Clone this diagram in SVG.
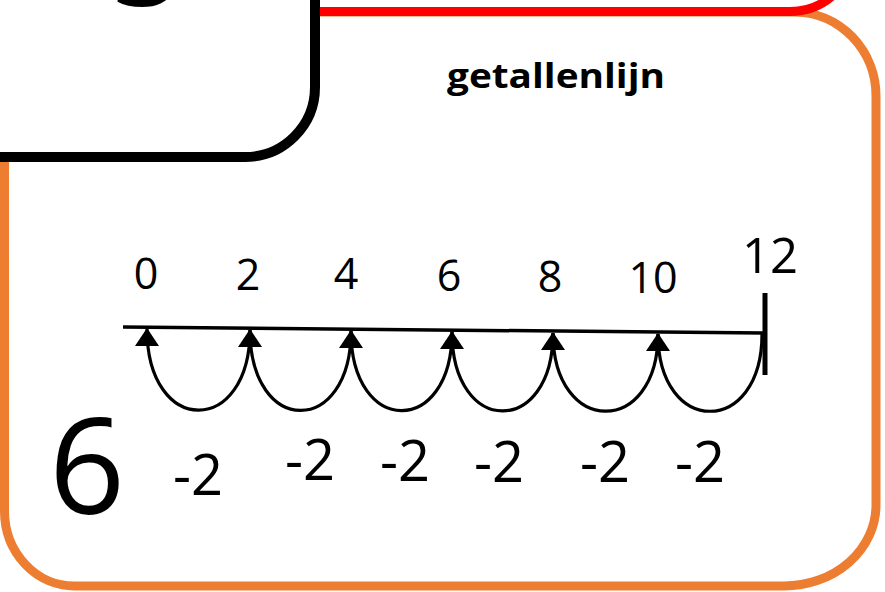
<svg xmlns="http://www.w3.org/2000/svg" width="885" height="592" viewBox="0 0 885 592">
<style>
.t{font-family:"Open Sans","DejaVu Sans",sans-serif;fill:#000;text-anchor:middle}
.num{font-size:43px}
.jump{font-size:56px}
.arc{fill:none;stroke:#000;stroke-width:3.2}
</style>
<defs>
<marker id="ah" markerUnits="userSpaceOnUse" markerWidth="18" markerHeight="24" viewBox="0 0 18 24" refX="17" refY="12" orient="auto">
<path d="M0 0 L18 12 L0 24 Z" fill="#000"/>
</marker>
</defs>
<rect width="885" height="592" fill="#fff"/>
<g id="orange-panel">
<path d="M40 12 H795 A82 84 0 0 1 876 96 V505 A92 81 0 0 1 784 586 H75 A70 75 0 0 1 4.5 511 V12 Z" fill="#fff" stroke="#ED7D31" stroke-width="9"/>
</g>
<g id="red-panel">
<path d="M300 -80 V11.5 H790 A65 65 0 0 0 855 -53.5 V-80 Z" fill="#fff" stroke="#FF0000" stroke-width="9"/>
</g>
<g id="black-panel">
<path d="M-20 -80 H315 V87 A70 70 0 0 1 245 157 H-20 Z" fill="#fff" stroke="#000" stroke-width="10"/>
<text class="t" x="147" y="6" font-size="133">5</text>
</g>
<g id="title">
<text x="556" y="88" font-family="'Open Sans','DejaVu Sans',sans-serif" font-weight="bold" font-size="34" text-anchor="middle" textLength="218" lengthAdjust="spacingAndGlyphs">getallenlijn</text>
</g>
<g id="step-number">
<text class="t" x="87" y="514" font-size="133">6</text>
</g>
<g id="number-line">
<line x1="123" y1="327" x2="763" y2="333" stroke="#000" stroke-width="3.5"/>
<line x1="765" y1="293" x2="765" y2="375" stroke="#000" stroke-width="5"/>
</g>
<g id="labels-top">
<text class="t num" x="146" y="289">0</text>
<text class="t num" x="248" y="290">2</text>
<text class="t num" x="346" y="289">4</text>
<text class="t num" x="449" y="291">6</text>
<text class="t num" x="550" y="292">8</text>
<text class="t num" x="653" y="293">10</text>
<text class="t" x="770" y="273" font-size="49">12</text>
</g>
<g id="connectors">
<path class="arc" marker-end="url(#ah)" d="M762 334 C762 437 658 437 658 334"/>
<path class="arc" marker-end="url(#ah)" d="M658 334 C658 437 553 437 553 333"/>
<path class="arc" marker-end="url(#ah)" d="M553 333 C553 437 452 437 452 332"/>
<path class="arc" marker-end="url(#ah)" d="M452 332 C452 437 351 437 351 331"/>
<path class="arc" marker-end="url(#ah)" d="M351 331 C351 437 250 437 250 330"/>
<path class="arc" marker-end="url(#ah)" d="M250 330 C250 437 147 437 147 329"/>
</g>
<g id="labels-jump">
<text class="t jump" x="198" y="495">-2</text>
<text class="t jump" x="310" y="480">-2</text>
<text class="t jump" x="405" y="481">-2</text>
<text class="t jump" x="499" y="482">-2</text>
<text class="t jump" x="605" y="482">-2</text>
<text class="t jump" x="700" y="482">-2</text>
</g>
</svg>
